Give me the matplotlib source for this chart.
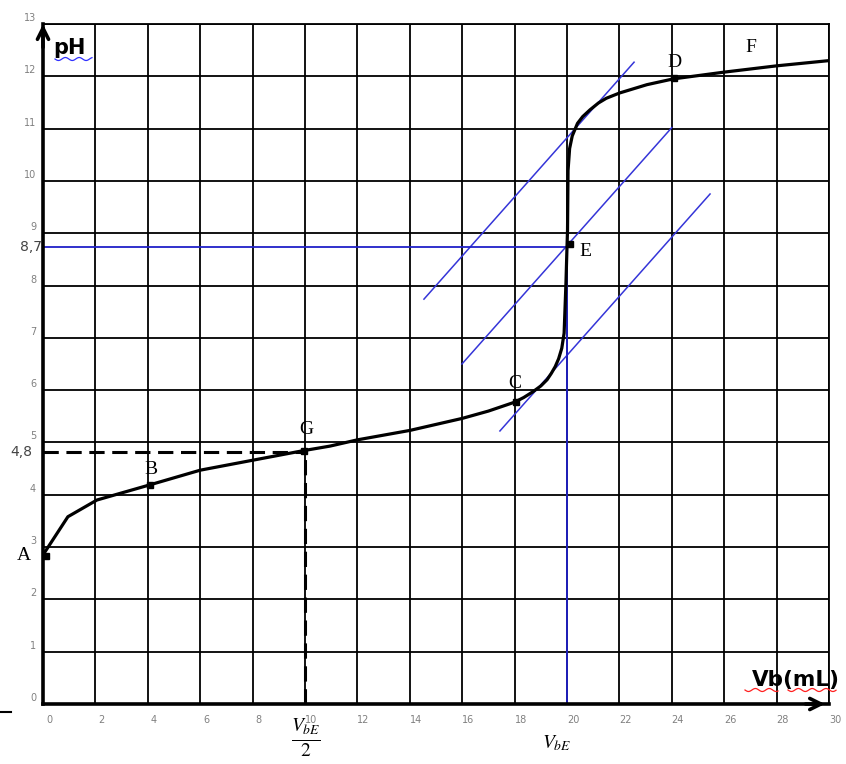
import numpy as np
import matplotlib.pyplot as plt
import matplotlib.transforms as mtransforms
from matplotlib.lines import Line2D

# Courbe de titrage pH = f(Vb)
vb = [0.0, 0.95, 2.06, 4.08, 6.0, 8.0, 9.9, 10.95, 12.0, 14.0, 16.0, 17.0,
      18.0, 18.35, 18.7, 19.0, 19.24, 19.4, 19.55, 19.68, 19.8, 19.89, 19.96,
      20.0, 20.02, 20.04, 20.1, 20.2, 20.4, 20.6, 20.88, 21.2, 21.5, 22.0,
      23.05, 24.05, 26.0, 28.0, 30.0]
ph = [2.85, 3.58, 3.9, 4.19, 4.47, 4.66, 4.84, 4.93, 5.05, 5.23, 5.46, 5.6,
      5.77, 5.86, 5.97, 6.08, 6.2, 6.32, 6.45, 6.6, 6.8, 7.09, 8.05,
      8.74, 9.06, 10.2, 10.62, 10.86, 11.1, 11.23, 11.36, 11.49, 11.58, 11.68,
      11.84, 11.95, 12.08, 12.2, 12.3]

# Points remarquables
pt_names = ['A', 'B', 'G', 'C', 'E', 'D']
pt_vb = [0.1, 4.08, 9.95, 18.05, 20.1, 24.1]
pt_ph = [2.83, 4.19, 4.84, 5.77, 8.8, 11.96]

# Tangentes paralleles (debut, fin)
tan_vb = [(14.54, 22.56), (15.99, 24.0), (17.44, 25.46)]
tan_ph = [(7.74, 12.27), (6.50, 11.02), (5.22, 9.75)]

v_eq = 20.0
ph_eq = 8.74
v_demi = 10.0
pka = 4.82

x_ticks = list(range(0, 31, 2))
y_ticks = list(range(0, 14))

fig = plt.figure(figsize=(8.46, 7.64), dpi=100)
ax = fig.add_axes([43 / 846, 60 / 764, 786 / 846, 680 / 764])
ax.set_xlim(0, 30)
ax.set_ylim(0, 13)

# grille
ax.set_xticks(x_ticks)
ax.set_yticks(y_ticks)
ax.grid(True, color='black', lw=1.3)
ax.set_axisbelow(True)
for s in ['top', 'right']:
    ax.spines[s].set_linewidth(1.3)
for s in ['left', 'bottom']:
    ax.spines[s].set_linewidth(2.6)

ax.tick_params(length=0, labelsize=7, labelcolor='#808080')
ax.tick_params(axis='x', pad=8)
ax.tick_params(axis='y', pad=5)
dx = mtransforms.ScaledTranslation(6 / 100, 0, fig.dpi_scale_trans)
dy = mtransforms.ScaledTranslation(0, 7 / 100, fig.dpi_scale_trans)
for lab in ax.get_xticklabels():
    lab.set_transform(lab.get_transform() + dx)
for lab in ax.get_yticklabels():
    lab.set_transform(lab.get_transform() + dy)

# fleches des axes
ax.annotate('', xy=(0, 13.05), xytext=(0, 12.5),
            arrowprops=dict(arrowstyle='->', lw=2.6, mutation_scale=20, color='black'),
            annotation_clip=False)
ax.annotate('', xy=(29.95, 0), xytext=(29.0, 0),
            arrowprops=dict(arrowstyle='->', lw=2.6, mutation_scale=20, color='black'),
            annotation_clip=False)

# tangentes et lignes bleues
for tv, tp in zip(tan_vb, tan_ph):
    ax.plot(tv, tp, color='#3535d8', lw=1.1)
ax.plot([0, v_eq], [ph_eq, ph_eq], color='#2020c8', lw=1.3)
ax.plot([v_eq, v_eq], [0, ph_eq], color='#2020c8', lw=1.3)

# pointilles demi-equivalence
ax.plot([0, v_demi], [pka, pka], color='black', lw=2.2, dashes=(5, 2.5))
ax.plot([v_demi, v_demi], [0, pka], color='black', lw=2.2, dashes=(5, 2.5))

# courbe
ax.plot(vb, ph, color='black', lw=2.3, solid_joinstyle='round', zorder=5)
ax.plot(pt_vb, pt_ph, 's', color='black', ms=5, zorder=6, clip_on=False)

serif = 'Liberation Serif'
offsets = {'A': (-0.55, 0.0, 'right', 'center'),
           'B': (0.05, 0.3, 'center', 'center'),
           'G': (0.1, 0.4, 'center', 'center'),
           'C': (-0.05, 0.35, 'center', 'center'),
           'E': (0.6, -0.15, 'center', 'center'),
           'D': (0.0, 0.3, 'center', 'center')}
for n, v, p in zip(pt_names, pt_vb, pt_ph):
    ox, oy, ha, va = offsets[n]
    ax.text(v + ox, p + oy, n, fontsize=14, family=serif, ha=ha, va=va,
            clip_on=False)
ax.text(27.0, 12.55, 'F', fontsize=14, family=serif, ha='center', va='center')

ax.text(-0.05, ph_eq, '8,7', fontsize=10, color='#444444', ha='right', va='center')
ax.text(-0.4, pka, '4,8', fontsize=10, color='#444444', ha='right', va='center')

# volumes sous l'axe
plt.rcParams['mathtext.fontset'] = 'stix'
ax.text(v_demi + 0.05, -0.66, r'$\frac{V_{bE}}{2}$', fontsize=20, ha='center', va='center')
ax.text(v_eq - 0.4, -0.75, r'$V_{bE}$', fontsize=14, ha='center', va='center')

# titres des axes
ax.text(0.4, 12.55, 'pH', fontsize=15, fontweight='bold', ha='left', va='center')
ax.text(30.4, 0.45, 'Vb(mL)', fontsize=15.5, fontweight='bold', ha='right', va='center')

# soulignements ondules (correcteur)
def wavy(x0, x1, y, color):
    xs = np.linspace(x0, x1, 60)
    ys = y + 1.5 * np.sin((xs - x0) / 2.2)
    fig.add_artist(Line2D(xs / 846, 1 - ys / 764, color=color, lw=0.9))

wavy(55, 92, 59, '#3030ff')
wavy(745, 778, 690, '#ff2020')
wavy(788, 836, 690, '#ff2020')

# petit trait a gauche
fig.add_artist(Line2D([0 / 846, 11 / 846], [1 - 712 / 764, 1 - 712 / 764],
                      color='black', lw=1.5))

fig.savefig('out.png', dpi=100)
